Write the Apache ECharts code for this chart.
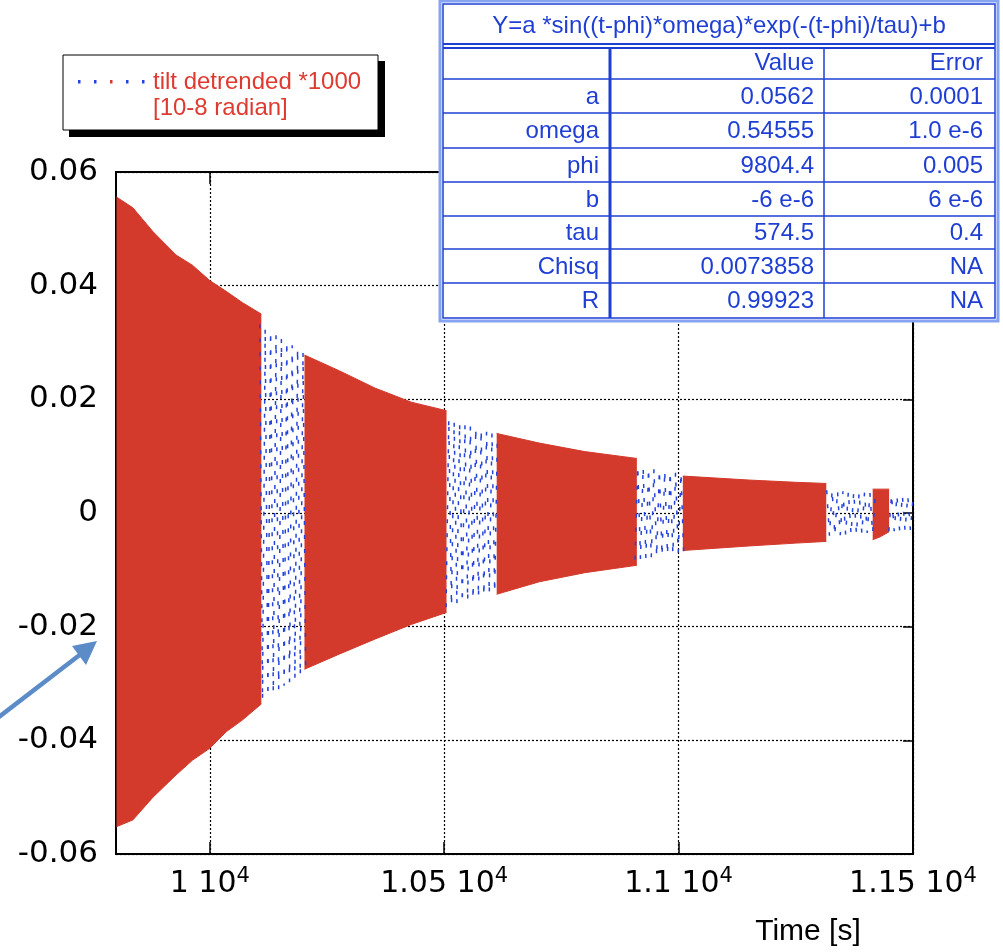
<!DOCTYPE html>
<html>
<head>
<meta charset="utf-8">
<script src="https://cdn.jsdelivr.net/npm/echarts@6/dist/echarts.min.js"></script>
<style>
html, body { margin: 0; padding: 0; background: #fff; }
#chart { width: 1003px; height: 952px; }
</style>
</head>
<body>
<div id="chart"></div>
<script>
// measured tilt, red blocks: [time, upper envelope, lower envelope]
var redSeg1 = [[9801, 0.0556, -0.0552], [9836, 0.0537, -0.0540], [9879, 0.0495, -0.0500], [9928, 0.0454, -0.0461],
    [9963, 0.0436, -0.0435], [10000, 0.0409, -0.0414], [10035, 0.0390, -0.0385], [10070, 0.0370, -0.0364], [10110, 0.0350, -0.0336]];
var redSeg2 = [[10202, 0.0278, -0.0275], [10277, 0.0250, -0.0248], [10352, 0.0220, -0.0222], [10430, 0.0195, -0.0196], [10505, 0.0180, -0.0175]];
var redSeg3 = [[10612, 0.0140, -0.0143], [10703, 0.0123, -0.0121], [10800, 0.0108, -0.0105], [10911, 0.0096, -0.0092]];
var redSeg4 = [[11009, 0.0065, -0.0066], [11150, 0.0058, -0.0058], [11250, 0.0054, -0.0053], [11315, 0.0052, -0.0050]];
var redSeg5 = [[11414, 0.0042, -0.0047], [11430, 0.0042, -0.0042], [11449, 0.0042, -0.0033]];

// fit curve peaks visible in the gaps: [time, value]
var fitGap1 = [[10106.7, 0.0332], [10112.5, -0.0329], [10118.2, 0.0325], [10124.0, -0.0322], [10129.8, 0.0319], [10135.5, -0.0316],
    [10141.3, 0.0313], [10147.0, -0.0310], [10152.8, 0.0307], [10158.6, -0.0304], [10164.3, 0.0301], [10170.1, -0.0298],
    [10175.8, 0.0295], [10181.6, -0.0292], [10187.3, 0.0289], [10193.1, -0.0286], [10198.9, 0.0283], [10204.6, -0.0281]];
var fitGap2 = [[10504.1, -0.0166], [10509.8, 0.0165], [10515.6, -0.0163], [10521.3, 0.0161], [10527.1, -0.0160], [10532.9, 0.0158],
    [10538.6, -0.0157], [10544.4, 0.0155], [10550.1, -0.0154], [10555.9, 0.0152], [10561.6, -0.0151], [10567.4, 0.0149],
    [10573.2, -0.0148], [10578.9, 0.0146], [10584.7, -0.0145], [10590.4, 0.0143], [10596.2, -0.0142], [10602.0, 0.0141],
    [10607.7, -0.0139], [10613.5, 0.0138]];
var fitGap3 = [[10907.2, -0.0082], [10912.9, 0.0082], [10918.7, -0.0081], [10924.4, 0.0080], [10930.2, -0.0079], [10935.9, 0.0078],
    [10941.7, -0.0078], [10947.5, 0.0077], [10953.2, -0.0076], [10959.0, 0.0075], [10964.7, -0.0075], [10970.5, 0.0074],
    [10976.3, -0.0073], [10982.0, 0.0072], [10987.8, -0.0072], [10993.5, 0.0071], [10999.3, -0.0070], [11005.1, 0.0070],
    [11010.8, -0.0069]];
var fitGap4 = [[11316.0, 0.0040], [11321.8, -0.0040], [11327.5, 0.0040], [11333.3, -0.0039], [11339.0, 0.0039], [11344.8, -0.0039],
    [11350.6, 0.0038], [11356.3, -0.0038], [11362.1, 0.0038], [11367.8, -0.0037], [11373.6, 0.0037], [11379.4, -0.0037],
    [11385.1, 0.0036], [11390.9, -0.0036], [11396.6, 0.0036], [11402.4, -0.0035], [11408.1, 0.0035], [11413.9, -0.0035],
    [11419.7, 0.0034]];
var fitGap5 = [[11448.5, -0.0032], [11454.2, 0.0032], [11460.0, -0.0032], [11465.7, 0.0031], [11471.5, -0.0031], [11477.3, 0.0031],
    [11483.0, -0.0031], [11488.8, 0.0030], [11494.5, -0.0030], [11500.3, 0.0030]];

var xTicks = [10000, 10500, 11000, 11500];
var xTickLabels = ['1 10{sup|4}', '1.05 10{sup|4}', '1.1 10{sup|4}', '1.15 10{sup|4}'];

var fitTitle = 'Y=a *sin((t-phi)*omega)*exp(-(t-phi)/tau)+b';
var fitParams = ['a', 'omega', 'phi', 'b', 'tau', 'Chisq', 'R'];
var fitValues = ['0.0562', '0.54555', '9804.4', '-6 e-6', '574.5', '0.0073858', '0.99923'];
var fitErrors = ['0.0001', '1.0 e-6', '0.005', '6 e-6', '0.4', 'NA', 'NA'];

var legendLines = ['tilt detrended *1000', '[10-8 radian]'];

var font = "'Liberation Sans', Arial, Helvetica, sans-serif";
var tickFont = "'DejaVu Sans', 'Liberation Sans', sans-serif";
var red = '#d43a2c';
var blue = '#2443dc';
var tableBlue = '#1f3fd4';

var redSegments = [redSeg1, redSeg2, redSeg3, redSeg4, redSeg5];
var fitGaps = [fitGap1, fitGap2, fitGap3, fitGap4, fitGap5];

// each red block = area from upper envelope to 0 plus area from lower envelope to 0
var series = [];
redSegments.forEach(function (seg) {
    [1, 2].forEach(function (k) {
        series.push({
            type: 'line', symbol: 'none', silent: true, z: 2,
            data: seg.map(function (p) { return [p[0], p[k]]; }),
            lineStyle: { color: red, width: 1 },
            areaStyle: { color: red, opacity: 1, origin: 0 }
        });
    });
});
fitGaps.forEach(function (gap) {
    series.push({
        type: 'line', symbol: 'none', silent: true, z: 3,
        data: gap,
        lineStyle: { color: blue, width: 1.5, type: [4, 10] }
    });
});

// fit table
var rowY = [4, 46, 79, 113, 148, 182, 216, 249, 283, 318];
var tableGraphics = [
    { type: 'rect', shape: { x: 440, y: 1, width: 558, height: 320 }, style: { fill: '#fff', stroke: '#86a4f2', lineWidth: 3 } },
    { type: 'rect', shape: { x: 443, y: 4, width: 552, height: 314 }, style: { fill: 'none', stroke: tableBlue, lineWidth: 1.5 } },
    { type: 'line', shape: { x1: 443, y1: 44, x2: 995, y2: 44 }, style: { stroke: tableBlue, lineWidth: 2 } },
    { type: 'line', shape: { x1: 443, y1: 48, x2: 995, y2: 48 }, style: { stroke: tableBlue, lineWidth: 2 } },
    { type: 'line', shape: { x1: 610, y1: 48, x2: 610, y2: 318 }, style: { stroke: tableBlue, lineWidth: 3 } },
    { type: 'line', shape: { x1: 824, y1: 48, x2: 824, y2: 318 }, style: { stroke: tableBlue, lineWidth: 1.5 } },
    { type: 'text', x: 719, y: 26, style: { text: fitTitle, font: '24px ' + font, fill: tableBlue, align: 'center', verticalAlign: 'middle' } },
    { type: 'text', x: 814, y: 63, style: { text: 'Value', font: '24px ' + font, fill: tableBlue, align: 'right', verticalAlign: 'middle' } },
    { type: 'text', x: 983, y: 63, style: { text: 'Error', font: '24px ' + font, fill: tableBlue, align: 'right', verticalAlign: 'middle' } }
];
for (var r = 2; r < rowY.length - 1; r++) {
    tableGraphics.push({ type: 'line', shape: { x1: 443, y1: rowY[r], x2: 995, y2: rowY[r] }, style: { stroke: tableBlue, lineWidth: 1.5 } });
}
fitParams.forEach(function (name, i) {
    var cy = (rowY[i + 2] + rowY[i + 3]) / 2 + 1;
    tableGraphics.push({ type: 'text', x: 599, y: cy, style: { text: name, font: '24px ' + font, fill: tableBlue, align: 'right', verticalAlign: 'middle' } });
    tableGraphics.push({ type: 'text', x: 814, y: cy, style: { text: fitValues[i], font: '24px ' + font, fill: tableBlue, align: 'right', verticalAlign: 'middle' } });
    tableGraphics.push({ type: 'text', x: 983, y: cy, style: { text: fitErrors[i], font: '24px ' + font, fill: tableBlue, align: 'right', verticalAlign: 'middle' } });
});

// legend box
var legendGraphics = [
    { type: 'rect', shape: { x: 69, y: 61, width: 316, height: 76 }, style: { fill: '#000' } },
    { type: 'rect', shape: { x: 63, y: 55, width: 315, height: 75 }, style: { fill: '#fff', stroke: '#000', lineWidth: 1 } },
    { type: 'text', x: 153, y: 82, style: { text: legendLines[0], font: '24px ' + font, fill: '#de3a30', verticalAlign: 'middle' } },
    { type: 'text', x: 153, y: 108, style: { text: legendLines[1], font: '24px ' + font, fill: '#de3a30', verticalAlign: 'middle' } }
];
[79, 95, 111, 127, 143].forEach(function (x, i) {
    legendGraphics.push({ type: 'rect', shape: { x: x - 1, y: 80, width: 2.5, height: 3.5 }, style: { fill: i === 2 ? red : blue } });
});

// pointer arrow and axis title
var arrowGraphics = [
    { type: 'line', shape: { x1: -5, y1: 720, x2: 90, y2: 647 }, style: { stroke: '#5b8cc8', lineWidth: 4.5 } },
    { type: 'polygon', shape: { points: [[97, 641], [72, 646], [86, 665]] }, style: { fill: '#5b8cc8' } },
    { type: 'text', x: 808, y: 932, style: { text: 'Time [s]', font: '30px ' + font, fill: '#000', align: 'center', verticalAlign: 'middle' } }
];

var overlay = legendGraphics.concat(tableGraphics, arrowGraphics);
overlay.forEach(function (el, i) { el.z = 100; el.z2 = i; });

var axisLineStyle = { show: true, onZero: false, lineStyle: { color: '#000', width: 2 } };

var chart = echarts.init(document.getElementById('chart'));
chart.setOption({
    backgroundColor: '#fff',
    animation: false,
    grid: { left: 116, top: 172, right: 90, bottom: 98, show: true, borderColor: '#000', borderWidth: 2 },
    xAxis: [
        {
            type: 'value', min: 9800, max: 11500, position: 'bottom',
            axisLine: axisLineStyle,
            axisTick: { show: true, inside: true, length: 12, customValues: xTicks, lineStyle: { color: '#000', width: 1.5 } },
            axisLabel: {
                customValues: xTicks, margin: 12, color: '#000', fontSize: 30, fontFamily: tickFont,
                formatter: function (v) { return xTickLabels[xTicks.indexOf(v)]; },
                rich: { sup: { fontSize: 21, fontFamily: tickFont, color: '#000', verticalAlign: 'top', padding: [0, 0, 16, 0] } }
            },
            splitLine: { show: true, lineStyle: { color: '#000', width: 1.2, type: [2, 2] } }
        },
        {
            type: 'value', min: 9800, max: 11500, position: 'top',
            axisLine: axisLineStyle,
            axisTick: { show: true, inside: true, length: 12, customValues: xTicks, lineStyle: { color: '#000', width: 1.5 } },
            axisLabel: { show: false },
            splitLine: { show: false }
        }
    ],
    yAxis: [
        {
            type: 'value', min: -0.06, max: 0.06, interval: 0.02, position: 'left',
            axisLine: axisLineStyle,
            axisTick: { show: true, inside: true, length: 10, lineStyle: { color: '#000', width: 1.5 } },
            axisLabel: {
                margin: 18, color: '#000', fontSize: 31, fontFamily: tickFont,
                formatter: function (v) { return String(+v.toFixed(2)); }
            },
            splitLine: { show: true, lineStyle: { color: '#000', width: 1.2, type: [2, 2] } }
        },
        {
            type: 'value', min: -0.06, max: 0.06, interval: 0.02, position: 'right',
            axisLine: axisLineStyle,
            axisTick: { show: true, inside: true, length: 10, lineStyle: { color: '#000', width: 1.5 } },
            axisLabel: { show: false },
            splitLine: { show: false }
        }
    ],
    graphic: { elements: overlay },
    series: series
});
</script>
</body>
</html>
